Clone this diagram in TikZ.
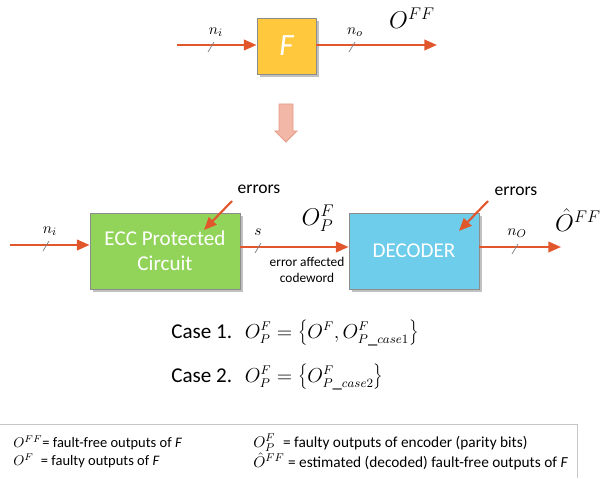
\documentclass[tikz,border=0pt]{standalone}
\usepackage{fontspec}
\setmainfont{Carlito}
\usetikzlibrary{shadows,arrows.meta}
\definecolor{wire}{HTML}{E2562C}
\definecolor{fbox}{HTML}{FFC83D}
\definecolor{eccbox}{HTML}{92D45A}
\definecolor{decbox}{HTML}{6DCDEB}
\definecolor{downfill}{HTML}{F2B7A6}
\definecolor{downline}{HTML}{E59C86}
\begin{document}
\begin{tikzpicture}[x=0.025cm,y=-0.025cm,
  block/.style={draw=black!45, line width=0.6pt, text=white, align=center,
    inner sep=0pt, drop shadow={shadow xshift=2pt, shadow yshift=-2pt, opacity=0.35, fill=black!70}},
  wireline/.style={draw=wire, line width=1.5pt, -{Triangle[length=9pt,width=7.5pt]}},
  errarrow/.style={draw=wire, line width=1.5pt, -{Triangle[length=9pt,width=7.5pt]}},
  bus/.style={draw=black!50, line width=0.5pt},
  lbl/.style={inner sep=0pt, font=\fontsize{11}{12}\selectfont},
  biglbl/.style={inner sep=0pt, font=\fontsize{18}{20}\selectfont},
  errtxt/.style={inner sep=0pt, font=\fontsize{12.5}{14}\selectfont},
  casetxt/.style={inner sep=0pt, anchor=west},
  legtxt/.style={inner sep=0pt, anchor=west, font=\fontsize{10.3}{12}\selectfont},
  legtxtwide/.style={legtxt, font=\fontsize{10.9}{12}\selectfont},
]
\useasboundingbox (0,0) rectangle (600,478);
\clip (0,0) rectangle (600,478);

% ---- upper part: the plain function F ----
\node[block, fill=fbox, minimum width=1.475cm, minimum height=1.4cm,
      font=\fontsize{22}{24}\selectfont\itshape] (F) at (286.5,46) {F};
\coordinate (fin) at (177,45);
\coordinate (fout) at (437,45);
\draw[wireline] (fin) -- (F.west |- fin);
\draw[wireline] (F.east |- fout) -- (fout);
\draw[bus] (208,52) -- (214,42);
\draw[bus] (349,52) -- (355,42);
\node[lbl] (ni1) at (216,32) {$n_i$};
\node[lbl] (no1) at (355,32) {$n_o$};
\node[biglbl] (off) at (412,18) {$O^{FF}$};

% ---- transition arrow ----
\draw[fill=downfill, draw=downline, line width=0.6pt]
  (279,104) -- (293,104) -- (293,131) -- (297,131) -- (286,142) -- (275,131) -- (279,131) -- cycle;

% ---- lower part: protected circuit and decoder ----
\node[block, fill=eccbox, minimum width=3.75cm, minimum height=1.9cm,
      font=\fontsize{15}{18}\selectfont] (ecc) at (165,251) {ECC Protected\\Circuit};
\node[block, fill=decbox, minimum width=3.25cm, minimum height=1.9cm,
      font=\fontsize{15}{18}\selectfont] (dec) at (414,251) {DECODER};
\coordinate (ein) at (10,245);
\coordinate (dout) at (561,247);
\draw[wireline] (ein) -- (ecc.west |- ein);
\draw[wireline] (ecc.east |- 0,247) -- (dec.west |- 0,247);
\draw[wireline] (dec.east |- dout) -- (dout);
\draw[bus] (43,251) -- (49,241);
\draw[bus] (255,253) -- (261,243);
\draw[bus] (512,254) -- (518,244);
\node[lbl] (ni2) at (50,231) {$n_i$};
\node[lbl] (s) at (258,232) {$s$};
\node[lbl] (no2) at (517,233) {$n_O$};
\node[biglbl] (opf) at (318,218) {$O^{F}_{P}$};
\node[biglbl] (ohat) at (578,220) {$\hat{O}^{FF}$};
\node[inner sep=0pt, align=center, font=\fontsize{9.5}{11.5}\selectfont] (cw) at (307,270) {error affected\\codeword};

\node[errtxt] (err1) at (259,189) {errors};
\coordinate (hit1) at (204,230);
\draw[errarrow] (232,201) -- (hit1);
\node[errtxt] (err2) at (516,191) {errors};
\coordinate (hit2) at (459,231);
\draw[errarrow] (488,201) -- (hit2);

% ---- the two cases ----
\node[casetxt] (case1) at (171,333)
  {{\fontsize{15}{18}\selectfont Case 1.}\hspace{9pt}{\fontsize{13.3}{16}\selectfont
   $O^{F}_{P} = \left\{O^{F}, O^{F}_{P\_case1}\right\}$}};
\node[casetxt] (case2) at (171,377)
  {{\fontsize{15}{18}\selectfont Case 2.}\hspace{9pt}{\fontsize{13.3}{16}\selectfont
   $O^{F}_{P} = \left\{O^{F}_{P\_case2}\right\}$}};

% ---- legend ----
\draw[draw=black!22, line width=0.6pt] (-5,424) -- (577,424) -- (577,490);
\node[legtxt] (l1) at (13,443) {$O^{FF}$= fault-free outputs of \textit{F}};
\node[legtxt] (l2) at (13,461) {$O^{F}$\enspace= faulty outputs of \textit{F}};
\node[legtxtwide] (l3) at (253,443) {$O^{F}_{P}$\enspace= faulty outputs of encoder (parity bits)};
\node[legtxtwide] (l4) at (253,461) {$\hat{O}^{FF}$ = estimated (decoded) fault-free outputs of \textit{F}};
\end{tikzpicture}
\end{document}
